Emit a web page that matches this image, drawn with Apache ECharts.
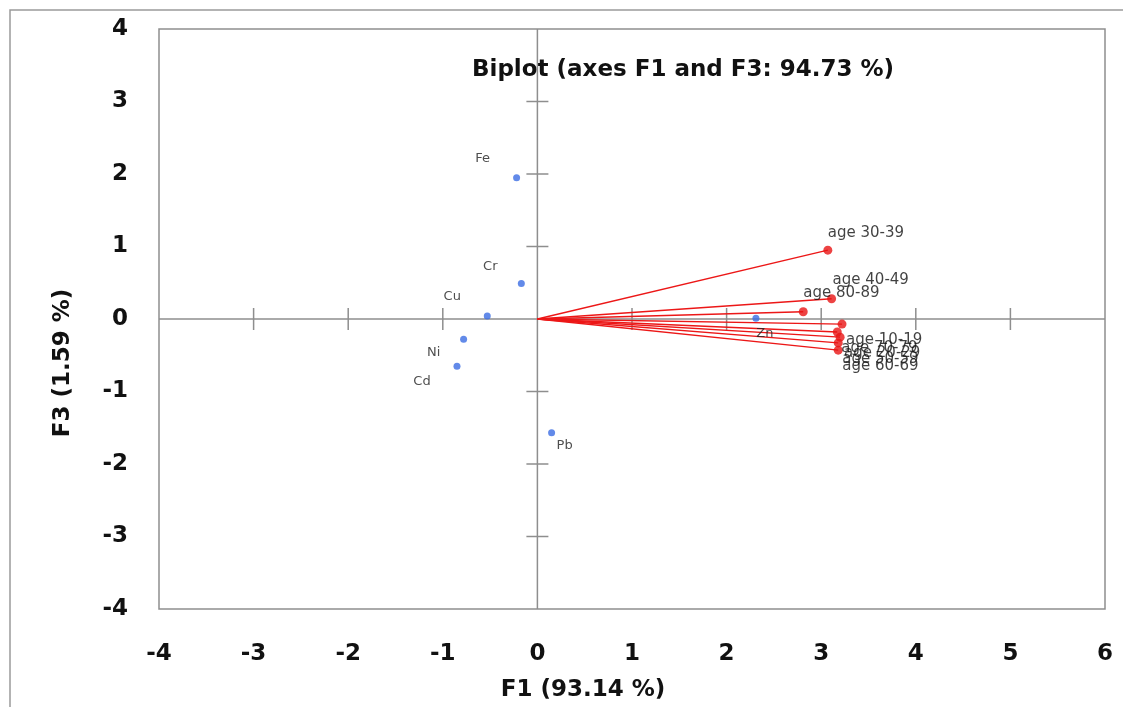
<!DOCTYPE html>
<html><head><meta charset="utf-8">
<script src="https://cdn.jsdelivr.net/npm/echarts@6/dist/echarts.min.js"></script>
<style>html,body{margin:0;padding:0;background:#fff}#c{width:1123px;height:707px}</style>
</head><body><div id="c"></div>
<script>
// ---- data ----
const xTicks = [-4, -3, -2, -1, 0, 1, 2, 3, 4, 5, 6];
const yTicks = [-4, -3, -2, -1, 0, 1, 2, 3, 4];
const obsNames = ['Fe', 'Cr', 'Cu', 'Ni', 'Cd', 'Pb', 'Zn'];
const obsF1 = [-0.22, -0.17, -0.53, -0.78, -0.85, 0.15, 2.31];
const obsF3 = [1.95, 0.49, 0.04, -0.28, -0.65, -1.57, 0.01];
const varNames = ['age 30-39', 'age 40-49', 'age 80-89', 'age 10-19', 'age 70-79', 'age 20-29', 'age 50-59', 'age 60-69'];
const varF1 = [3.07, 3.11, 2.81, 3.22, 3.17, 3.20, 3.18, 3.18];
const varF3 = [0.95, 0.28, 0.10, -0.07, -0.18, -0.25, -0.33, -0.43];
const titleText = 'Biplot (axes F1 and F3: 94.73 %)';
const xName = 'F1 (93.14 %)';
const yName = 'F3 (1.59 %)';

// ---- label placement (style) ----
const obsLabelOffset = { Fe: [-34, -19], Cr: [-31, -17], Cu: [-35, -19], Ni: [-30, 13], Cd: [-35, 15], Pb: [13, 13], Zn: [9, 15] };
const varLabelOffset = { 'age 30-39': [0, -17], 'age 40-49': [1, -19], 'age 80-89': [0, -19] };

const AX = '#8e8e8e';
const BOLD = 'DejaVu Sans';
const LBL = 'DejaVu Sans';

const chart = echarts.init(document.getElementById('c'), null, { renderer: 'canvas' });

const option = {
  animation: false,
  backgroundColor: '#fff',
  grid: { left: 159, top: 29, width: 946, height: 580, show: true, borderColor: AX, borderWidth: 1.5, backgroundColor: 'transparent' },
  xAxis: {
    type: 'value', min: xTicks[0], max: xTicks[xTicks.length - 1], interval: 1,
    axisLine: { show: false }, axisTick: { show: false }, splitLine: { show: false },
    axisLabel: { margin: 34, fontFamily: BOLD, fontWeight: 'bold', fontSize: 23, color: '#111' }
  },
  yAxis: {
    type: 'value', min: yTicks[0], max: yTicks[yTicks.length - 1], interval: 1,
    axisLine: { show: false }, axisTick: { show: false }, splitLine: { show: false },
    axisLabel: { margin: 31, fontFamily: BOLD, fontWeight: 'bold', fontSize: 23, color: '#111' }
  },
  graphic: [
    { type: 'rect', silent: true, z: -10, shape: { x: 10, y: 10, width: 1300, height: 900 }, style: { fill: 'none', stroke: '#9a9a9a', lineWidth: 1.5 } },
    { type: 'text', silent: true, x: 683, y: 70, style: { text: titleText, fontFamily: BOLD, fontWeight: 'bold', fontSize: 23, fill: '#111', textAlign: 'center', textVerticalAlign: 'middle' } },
    { type: 'text', silent: true, x: 583, y: 690, style: { text: xName, fontFamily: BOLD, fontWeight: 'bold', fontSize: 23, fill: '#111', textAlign: 'center', textVerticalAlign: 'middle' } },
    { type: 'text', silent: true, x: 63, y: 363, rotation: Math.PI / 2, style: { text: yName, fontFamily: BOLD, fontWeight: 'bold', fontSize: 23, fill: '#111', textAlign: 'center', textVerticalAlign: 'middle' } }
  ],
  series: [
    {
      type: 'custom', silent: true, z: 1,
      data: [[0, 0]],
      renderItem: function (params, api) {
        const children = [];
        const o = api.coord([0, 0]);
        const xl = api.coord([xTicks[0], 0]), xr = api.coord([xTicks[xTicks.length - 1], 0]);
        const yb = api.coord([0, yTicks[0]]), yt = api.coord([0, yTicks[yTicks.length - 1]]);
        const st = { stroke: AX, lineWidth: 1.5 };
        children.push({ type: 'line', shape: { x1: xl[0], y1: o[1], x2: xr[0], y2: o[1] }, style: st });
        children.push({ type: 'line', shape: { x1: o[0], y1: yb[1], x2: o[0], y2: yt[1] }, style: st });
        xTicks.slice(1, -1).forEach(function (t) {
          if (t === 0) return;
          const p = api.coord([t, 0]);
          children.push({ type: 'line', shape: { x1: p[0], y1: p[1] - 11, x2: p[0], y2: p[1] + 11 }, style: st });
        });
        yTicks.slice(1, -1).forEach(function (t) {
          if (t === 0) return;
          const p = api.coord([0, t]);
          children.push({ type: 'line', shape: { x1: p[0] - 11, y1: p[1], x2: p[0] + 11, y2: p[1] }, style: st });
        });
        return { type: 'group', children: children };
      }
    },
    {
      type: 'custom', silent: true, z: 2,
      data: varF1.map(function (x, i) { return [x, varF3[i]]; }),
      renderItem: function (params, api) {
        const o = api.coord([0, 0]);
        const p = api.coord([api.value(0), api.value(1)]);
        return { type: 'line', shape: { x1: o[0], y1: o[1], x2: p[0], y2: p[1] }, style: { stroke: '#ec1717', lineWidth: 1.4 } };
      }
    },
    {
      type: 'scatter', z: 3, symbol: 'circle', symbolSize: 9,
      itemStyle: { color: '#e81414' },
      data: varNames.map(function (n, i) {
        const off = varLabelOffset[n] || [4, 16];
        return {
          name: n, value: [varF1[i], varF3[i]],
          label: { show: true, formatter: '{b}', position: 'inside', align: 'left', verticalAlign: 'middle', offset: off, fontFamily: LBL, fontSize: 15, color: '#111' }
        };
      })
    },
    {
      type: 'scatter', z: 4, symbol: 'circle', symbolSize: 7,
      itemStyle: { color: '#3b6de3' },
      data: obsNames.map(function (n, i) {
        return {
          name: n, value: [obsF1[i], obsF3[i]],
          label: { show: true, formatter: '{b}', position: 'inside', align: 'center', verticalAlign: 'middle', offset: obsLabelOffset[n], fontFamily: LBL, fontSize: 13, color: '#222' }
        };
      })
    }
  ]
};
chart.setOption(option);
</script>
</body></html>
